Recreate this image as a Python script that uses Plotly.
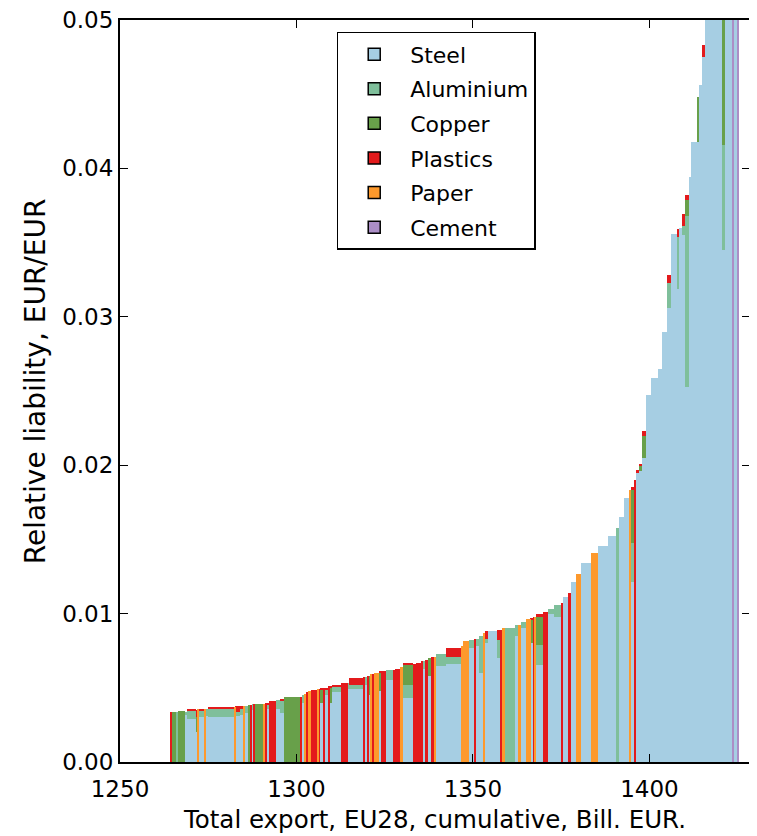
import numpy as np
import plotly.graph_objects as go

# Cumulative export (Bill. EUR) where the first sector starts
cumulative_start = 1264.4

# Export of each sector (bar widths, Bill. EUR), ordered by total relative liability
widths = [
    0.4, 1.2, 0.5, 1.8, 0.8, 2.5, 0.4, 0.5, 1.5, 0.3,
    0.5, 7.5, 0.4, 1.2, 1.0, 0.4, 1.0, 0.8, 0.4, 0.4,
    0.4, 2.4, 0.5, 0.5, 0.5, 2.0, 1.0,
    1.4, 4.5, 0.5, 0.6, 0.5, 0.5, 0.8, 1.7, 0.6, 0.4,
    0.9, 0.4, 1.2, 0.4, 0.6, 2.4, 1.4, 0.5, 0.5, 4.0,
    0.5, 0.5, 0.5, 0.4, 0.6, 0.5, 1.4, 0.6, 1.5, 2.0,
    0.5,
    0.9, 0.4, 0.8, 3.0, 0.9, 1.4, 0.4, 0.5, 0.9, 1.0,
    0.8, 0.4, 3.0, 4.3, 0.5, 1.7, 1.5, 0.4, 1.0, 1.1,
    0.5, 1.0, 2.5, 0.9, 0.4, 0.8, 3.0,
    0.8, 0.9, 1.4, 1.3, 0.5, 0.6, 0.4, 1.9, 1.4, 1.9,
    1.9, 0.6, 1.4, 0.9, 1.4, 1.4, 2.8, 1.9, 2.8, 2.4,
    0.9, 1.4, 1.4,
    0.4, 1.0, 0.4, 1.0, 0.9, 1.0, 1.4, 1.9, 1.2, 1.6,
    0.9, 1.9, 0.4, 0.9, 0.8, 1.3, 0.6, 1.7, 0.5, 0.9,
    0.8, 2.5, 2.4, 0.7, 2.1, 0.5, 0.7, 0.7,
]

steel = [
    0, 0, 0, 0, 0.0032, 0.0029, 0.0020, 0, 0.0030, 0,
    0.0031, 0.00303, 0, 0.0031, 0.0032, 0, 0.0033, 0, 0, 0.0035,
    0, 0, 0, 0, 0.0036, 0, 0.0036,
    0.0033, 0, 0, 0.0040, 0, 0, 0, 0, 0, 0,
    0.0040, 0, 0.0045, 0, 0.0040, 0.0047, 0, 0, 0.0049, 0.0049,
    0, 0.0052, 0, 0.0045, 0, 0, 0, 0.0048, 0, 0.0055,
    0,
    0, 0, 0, 0.0043, 0, 0, 0, 0.0063, 0, 0.0058,
    0, 0, 0.0065, 0.0066, 0, 0, 0.0077, 0, 0.0078, 0.0060,
    0, 0.0080, 0.00885, 0.0070, 0, 0, 0,
    0.0085, 0, 0.0090, 0, 0.0080, 0, 0, 0.00654, 0, 0.0100,
    0.0098, 0, 0.0111, 0, 0.01215, 0, 0.0134, 0, 0.01455, 0.0152,
    0, 0.0165, 0.0178,
    0, 0.01215, 0, 0.0195, 0.0196, 0.0205, 0.0247, 0.0259, 0.0265, 0.0290,
    0.0306, 0.0356, 0.0319, 0.0360, 0.0355, 0.0253, 0.0394, 0.0418, 0.0418, 0.0456,
    0.0475, 0.062, 0.075, 0.0345, 0.100, 0, 0.130, 0,
]

aluminium = [
    0, 0, 0.0034, 0, 0.0002, 0.00055, 0, 0, 0.0005, 0,
    0.0005, 0.00055, 0, 0.0003, 0.0004, 0, 0.0005, 0, 0, 0.0004,
    0, 0, 0, 0, 0.0003, 0, 0.0006,
    0.0008, 0, 0, 0.0005, 0, 0, 0, 0, 0, 0,
    0, 0, 0.0004, 0, 0, 0.0004, 0, 0, 0.0004, 0.0003,
    0, 0.0005, 0, 0, 0, 0, 0, 0, 0, 0.0007,
    0,
    0, 0, 0, 0.0009, 0, 0, 0, 0.0005, 0, 0,
    0, 0, 0.0008, 0.0005, 0, 0, 0.0005, 0, 0.0005, 0.0025,
    0, 0.0003, 0, 0.0012, 0, 0, 0.00905,
    0.0007, 0, 0.00045, 0, 0, 0, 0, 0.00136, 0, 0.0003,
    0.0008, 0, 0, 0, 0, 0, 0, 0, 0, 0,
    0.0158, 0, 0,
    0, 0.0026, 0, 0, 0, 0, 0, 0, 0, 0,
    0.0017, 0, 0.0035, 0, 0.0006, 0.0115, 0, 0, 0, 0,
    0, 0, 0, 0.0071, 0, 0, 0, 0,
]

copper = [
    0, 0.0034, 0, 0.00342, 0, 0, 0.0010, 0, 0, 0,
    0, 0, 0, 0, 0, 0, 0, 0.00385, 0, 0,
    0, 0.00388, 0, 0, 0, 0, 0,
    0, 0.00436, 0, 0, 0, 0, 0, 0, 0, 0,
    0.0009, 0, 0, 0, 0.0010, 0, 0, 0, 0, 0,
    0, 0, 0, 0.0013, 0, 0, 0, 0.0012, 0, 0,
    0,
    0, 0, 0, 0.00135, 0, 0, 0, 0, 0, 0.0012,
    0, 0, 0, 0, 0, 0, 0, 0, 0, 0,
    0, 0, 0, 0, 0, 0, 0,
    0, 0, 0, 0, 0.0016, 0, 0, 0.0019, 0, 0,
    0, 0, 0, 0, 0, 0, 0, 0, 0, 0,
    0, 0, 0,
    0, 0.0036, 0, 0, 0.0004, 0.0015, 0, 0, 0, 0,
    0, 0, 0, 0, 0, 0.0011, 0, 0, 0.0030, 0,
    0, 0, 0, 0.050, 0, 0, 0, 0,
]

plastics = [
    0.00335, 0, 0, 0, 0, 0.0001, 0.0005, 0, 0.00005, 0,
    0, 0.0001, 0, 0.0004, 0.0002, 0, 0, 0, 0.00385, 0,
    0.0039, 0, 0, 0.0040, 0.0001, 0.0041, 0,
    0.00015, 0, 0.0044, 0, 0, 0.0047, 0, 0.00485, 0, 0.0049,
    0.0001, 0.0050, 0.0001, 0.0051, 0.0001, 0.0001, 0.0053, 0.00535, 0, 0.00044,
    0.0057, 0, 0.0058, 0, 0, 0.0059, 0, 0.0001, 0.0061, 0,
    0.0062,
    0.00627, 0.0063, 0, 0.0001, 0.0066, 0.00667, 0.0068, 0, 0.0069, 0,
    0.0071, 0, 0, 0.00057, 0, 0, 0, 0.0083, 0, 0,
    0, 0.0005, 0, 0.0007, 0.0089, 0, 0,
    0, 0, 0, 0, 0.0001, 0.0098, 0, 0.0002, 0.0101, 0,
    0, 0.0107, 0, 0.0114, 0, 0, 0, 0, 0, 0,
    0, 0, 0,
    0, 0.0002, 0.0190, 0.0002, 0.0001, 0.0003, 0, 0, 0, 0,
    0.0005, 0, 0.0005, 0, 0.0008, 0.0003, 0, 0, 0, 0,
    0.0008, 0, 0, 0, 0, 0, 0, 0,
]

paper = [
    0, 0, 0, 0, 0, 0, 0, 0.00355, 0, 0.0036,
    0, 0, 0.0037, 0, 0, 0.0038, 0, 0, 0, 0,
    0, 0, 0.0039, 0, 0, 0, 0,
    0, 0, 0, 0, 0.0046, 0, 0.0048, 0, 0.0049, 0,
    0, 0, 0, 0, 0, 0, 0, 0, 0, 0,
    0, 0, 0, 0, 0.0059, 0, 0.0060, 0, 0, 0,
    0,
    0, 0, 0.0064, 0, 0, 0, 0, 0, 0, 0,
    0, 0.0071, 0, 0, 0.0078, 0.00815, 0, 0, 0, 0,
    0.0087, 0, 0, 0, 0, 0.0090, 0,
    0, 0.0092, 0, 0.00963, 0, 0, 0.0098, 0, 0, 0,
    0, 0, 0, 0, 0, 0.0127, 0, 0.0141, 0, 0,
    0, 0, 0,
    0.0183, 0, 0, 0, 0, 0, 0, 0, 0, 0,
    0, 0, 0, 0, 0, 0, 0, 0, 0, 0,
    0, 0, 0, 0, 0, 0, 0, 0,
]

cement = [
    0, 0, 0, 0, 0, 0, 0, 0, 0, 0,
    0, 0, 0, 0, 0, 0, 0, 0, 0, 0,
    0, 0, 0, 0, 0, 0, 0,
    0, 0, 0, 0, 0, 0, 0, 0, 0, 0,
    0, 0, 0, 0, 0, 0, 0, 0, 0, 0,
    0, 0, 0, 0, 0, 0, 0, 0, 0, 0,
    0,
    0, 0, 0, 0, 0, 0, 0, 0, 0, 0,
    0, 0, 0, 0, 0, 0, 0, 0, 0, 0,
    0, 0, 0, 0, 0, 0, 0,
    0, 0, 0, 0, 0, 0, 0, 0, 0, 0,
    0, 0, 0, 0, 0, 0, 0, 0, 0, 0,
    0, 0, 0,
    0, 0, 0, 0, 0, 0, 0, 0, 0, 0,
    0, 0, 0, 0, 0, 0, 0, 0, 0, 0,
    0, 0, 0, 0, 0, 0.120, 0, 0.150,
]

materials = ["Steel", "Aluminium", "Copper", "Plastics", "Paper", "Cement"]
series = [steel, aluminium, copper, plastics, paper, cement]
colors = ["#a6cee3", "#7fbf9b", "#68a04a", "#e31a1c", "#fd992c", "#ab8ec6"]

n = len(widths)
for s in series:
    assert len(s) == n, (len(s), n)

w = np.array(widths)
left = cumulative_start + np.cumsum(w) - w
centers = left + w / 2

fig = go.Figure()

# legend-only entries (patch with black edge)
for name, col in zip(materials, colors):
    fig.add_trace(go.Bar(
        x=[None], y=[None], name=name, legendgroup=name,
        marker=dict(color=col, line=dict(color="black", width=1.5)),
        showlegend=True, hoverinfo="skip",
    ))

for name, vals, col in zip(materials, series, colors):
    fig.add_trace(go.Bar(
        x=centers, y=vals, width=w, name=name, legendgroup=name,
        marker=dict(color=col, line=dict(width=0)),
        showlegend=False, hoverinfo="skip",
    ))

tick_font = dict(family="DejaVu Sans", size=23, color="black")
xtitle_font = dict(family="DejaVu Sans", size=24.5, color="black")
ytitle_font = dict(family="DejaVu Sans", size=28, color="black")

fig.update_layout(
    width=757, height=836,
    margin=dict(l=112, r=15, t=12, b=82),
    barmode="stack", bargap=0,
    plot_bgcolor="white", paper_bgcolor="white",
    font=tick_font,
    legend=dict(
        x=0.344, y=0.984, xanchor="left", yanchor="top",
        bordercolor="black", borderwidth=1.5, bgcolor="white",
        font=dict(family="DejaVu Sans", size=22, color="black"),
        traceorder="grouped", tracegroupgap=3, itemwidth=62,
    ),
    xaxis=dict(
        range=[1250, 1428.5], tickvals=[1250, 1300, 1350, 1400],
        showline=True, linecolor="black", linewidth=2, mirror="ticks",
        ticks="inside", ticklen=8, tickwidth=1.3, tickcolor="black",
        showgrid=False, zeroline=False, ticklabelstandoff=5, automargin=False,
        ticklabeloverflow="allow",
        title=dict(text="Total export, EU28, cumulative, Bill. EUR.", standoff=10, font=xtitle_font),
        tickfont=tick_font,
    ),
    yaxis=dict(
        range=[0, 0.05], tickvals=[0, 0.01, 0.02, 0.03, 0.04, 0.05], tickformat=".2f",
        showline=True, linecolor="black", linewidth=2, mirror="ticks",
        ticks="inside", ticklen=8, tickwidth=1.3, tickcolor="black",
        showgrid=False, zeroline=False, automargin=False,
        ticklabeloverflow="allow",
        tickfont=tick_font,
    ),
    annotations=[dict(
        text="Relative liability, EUR/EUR", textangle=-90,
        xref="paper", yref="paper", x=-0.135, y=0.513,
        xanchor="center", yanchor="middle", showarrow=False,
        font=ytitle_font,
    )],
)

fig.write_html("out.html")
